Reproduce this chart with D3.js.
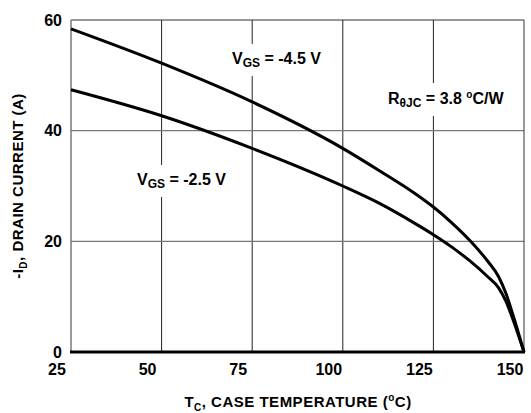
<!DOCTYPE html>
<html lang="en">
<head>
    <meta charset="UTF-8">
    <title>Drain Current vs Case Temperature</title>
    <script src="https://d3js.org/d3.v7.min.js"></script>
    <style>
        body { margin: 0; background: #fff; }
        svg { display: block; }
        text { font-family: "Liberation Sans", Arial, sans-serif; font-weight: bold; fill: #000; }
    </style>
</head>
<body>
    <svg width="531" height="413"></svg>
    <script>
        // values
        const tempTicks = [25, 50, 75, 100, 125, 150];
        const currentTicks = [0, 20, 40, 60];

        const tempVgs45 = [25, 50, 75, 100, 110, 120, 125, 130, 135, 140, 143, 145, 147, 150];
        const idVgs45 = [58.4, 52.2, 45.2, 36.8, 32.8, 28.6, 26.2, 23.4, 20.2, 16.4, 13.6, 10.6, 6.6, 0];

        const tempVgs25 = [25, 50, 75, 100, 110, 120, 125, 130, 135, 140, 143, 145, 147, 150];
        const idVgs25 = [47.4, 42.7, 36.8, 30.0, 26.9, 23.2, 21.2, 19.0, 16.5, 13.6, 11.6, 9.2, 5.8, 0];

        const svg = d3.select("svg");
        const margin = { left: 71, right: 7, top: 20, bottom: 61 };
        const width = 531, height = 413;

        const x = d3.scaleLinear().domain([25, 150]).range([margin.left, width - margin.right]);
        const y = d3.scaleLinear().domain([0, 60]).range([height - margin.bottom, margin.top]);

        // grid
        svg.append("g")
            .selectAll("line")
            .data(tempTicks.slice(1, -1))
            .enter().append("line")
            .attr("x1", d => x(d)).attr("x2", d => x(d))
            .attr("y1", y(60)).attr("y2", y(0))
            .style("stroke", "#222").style("stroke-width", 1);

        svg.append("g")
            .selectAll("line")
            .data(currentTicks.slice(1, -1))
            .enter().append("line")
            .attr("x1", x(25)).attr("x2", x(150))
            .attr("y1", d => y(d)).attr("y2", d => y(d))
            .style("stroke", "#777").style("stroke-width", 1.2);

        // frame
        svg.append("line").attr("x1", x(25)).attr("x2", x(150)).attr("y1", y(60)).attr("y2", y(60))
            .style("stroke", "#333").style("stroke-width", 1);
        svg.append("line").attr("x1", x(150)).attr("x2", x(150)).attr("y1", y(60)).attr("y2", y(0))
            .style("stroke", "#555").style("stroke-width", 1.2);
        svg.append("line").attr("x1", x(25)).attr("x2", x(25)).attr("y1", y(60)).attr("y2", y(0))
            .style("stroke", "#777").style("stroke-width", 1.5);

        // curves
        const line = d3.line()
            .x(d => x(d[0]))
            .y(d => y(d[1]))
            .curve(d3.curveMonotoneX);

        const curves = [d3.zip(tempVgs45, idVgs45), d3.zip(tempVgs25, idVgs25)];
        svg.append("g")
            .selectAll("path")
            .data(curves)
            .enter().append("path")
            .attr("d", line)
            .style("fill", "none")
            .style("stroke", "#000")
            .style("stroke-width", 3)
            .style("stroke-linejoin", "round");

        // bottom axis line (thick)
        svg.append("line").attr("x1", x(25) - 1).attr("x2", x(150) + 1).attr("y1", y(0)).attr("y2", y(0))
            .style("stroke", "#000").style("stroke-width", 3);

        // tick labels
        svg.append("g")
            .selectAll("text")
            .data(tempTicks)
            .enter().append("text")
            .attr("x", d => x(d) - 14)
            .attr("y", y(0) + 23)
            .attr("text-anchor", "middle")
            .style("font-size", "16px")
            .text(d => d);

        svg.append("g")
            .selectAll("text")
            .data(currentTicks)
            .enter().append("text")
            .attr("x", x(25) - 9)
            .attr("y", d => y(d))
            .attr("dy", "0.36em")
            .attr("text-anchor", "end")
            .style("font-size", "16px")
            .text(d => d);

        // axis titles
        const xt = svg.append("text")
            .attr("x", 298).attr("y", 407)
            .attr("text-anchor", "middle")
            .style("font-size", "15px")
            .style("letter-spacing", "0.5px");
        xt.append("tspan").text("T");
        xt.append("tspan").attr("dy", 4).style("font-size", "10px").text("C");
        xt.append("tspan").attr("dy", -4).text(", CASE TEMPERATURE (");
        xt.append("tspan").attr("dy", -6).style("font-size", "10px").text("o");
        xt.append("tspan").attr("dy", 6).text("C)");

        const yt = svg.append("text")
            .attr("transform", "translate(23,186) rotate(-90)")
            .attr("text-anchor", "middle")
            .style("font-size", "15px")
            .style("letter-spacing", "0.5px");
        yt.append("tspan").text("-I");
        yt.append("tspan").attr("dy", 4).style("font-size", "10px").text("D");
        yt.append("tspan").attr("dy", -4).text(", DRAIN CURRENT (A)");

        // annotations with white backing
        function note(xPos, yPos, parts) {
            const g = svg.append("g");
            const t = g.append("text").attr("x", xPos).attr("y", yPos).style("font-size", "16px");
            parts.forEach(p => {
                t.append("tspan").attr("dy", p.dy || 0).style("font-size", p.size || null).text(p.text);
            });
            const b = t.node().getBBox();
            g.insert("rect", "text")
                .attr("x", b.x - 4).attr("y", b.y - 6)
                .attr("width", b.width + 8).attr("height", b.height + 12)
                .style("fill", "#fff");
        }

        note(232, 64, [{ text: "V" }, { text: "GS", dy: 3, size: "12px" }, { text: " = -4.5 V", dy: -3 }]);
        note(137, 185, [{ text: "V" }, { text: "GS", dy: 3, size: "12px" }, { text: " = -2.5 V", dy: -3 }]);
        note(388, 104, [{ text: "R" }, { text: "θJC", dy: 3, size: "12px" }, { text: " = 3.8 ", dy: -3 },
            { text: "o", dy: -6, size: "10px" }, { text: "C/W", dy: 6 }]);
    </script>
</body>
</html>
